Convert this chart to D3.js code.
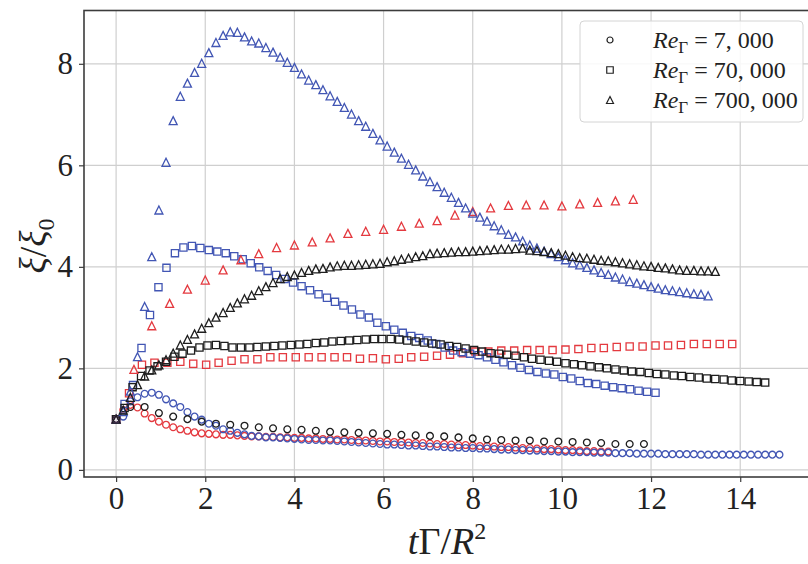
<!DOCTYPE html>
<html>
<head>
<meta charset="utf-8">
<script src="https://cdn.jsdelivr.net/npm/d3@7"></script>
<style>
  html, body { margin: 0; padding: 0; background: #fff; }
  svg text { font-family: "Liberation Serif", "DejaVu Serif", serif; fill: #222; }
</style>
</head>
<body>
<svg id="chart" width="808" height="564"></svg>
<script>
// Axis ticks
const xTicks = [0, 2, 4, 6, 8, 10, 12, 14];
const yTicks = [0, 2, 4, 6, 8];

// Legend entries (Reynolds number of each marker shape)
const reLabels = ["7, 000", "70, 000", "700, 000"];

// [tΓ/R², ξ/ξ0] — Re = 7,000 (circles)
const circBlack = [[0,1.00],[0.32,1.24],[0.64,1.24],[0.96,1.12],[1.28,1.05],[1.60,1.00],[1.92,0.95],[2.24,0.91],[2.56,0.89],[2.88,0.87],[3.20,0.84],[3.52,0.82],[3.84,0.80],[4.16,0.79],[4.48,0.77],[4.80,0.75],[5.12,0.74],[5.44,0.73],[5.76,0.72],[6.08,0.71],[6.40,0.69],[6.72,0.68],[7.04,0.67],[7.36,0.66],[7.68,0.64],[8.00,0.62],[8.32,0.60],[8.64,0.59],[8.96,0.58],[9.28,0.58],[9.60,0.56],[9.92,0.56],[10.24,0.55],[10.56,0.54],[10.88,0.53],[11.20,0.51],[11.52,0.51],[11.84,0.51]];
const circBlue = [[0,1.00],[0.16,1.05],[0.32,1.35],[0.48,1.43],[0.64,1.50],[0.80,1.52],[0.96,1.48],[1.12,1.39],[1.28,1.31],[1.44,1.24],[1.60,1.14],[1.76,1.05],[1.92,0.99],[2.08,0.91],[2.24,0.87],[2.40,0.80],[2.56,0.77],[2.72,0.73],[2.88,0.70],[3.04,0.67],[3.20,0.66],[3.36,0.64],[3.52,0.64],[3.68,0.63],[3.84,0.62],[4.00,0.61],[4.16,0.60],[4.32,0.59],[4.48,0.59],[4.64,0.58],[4.80,0.58],[4.96,0.57],[5.12,0.56],[5.28,0.55],[5.44,0.54],[5.60,0.53],[5.76,0.52],[5.92,0.51],[6.08,0.50],[6.24,0.50],[6.40,0.49],[6.56,0.48],[6.72,0.48],[6.88,0.47],[7.04,0.46],[7.20,0.46],[7.36,0.45],[7.52,0.44],[7.68,0.44],[7.84,0.43],[8.00,0.43],[8.16,0.42],[8.32,0.42],[8.48,0.41],[8.64,0.40],[8.80,0.40],[8.96,0.39],[9.12,0.39],[9.28,0.38],[9.44,0.38],[9.60,0.37],[9.76,0.37],[9.92,0.36],[10.08,0.36],[10.24,0.35],[10.40,0.35],[10.56,0.35],[10.72,0.34],[10.88,0.34],[11.04,0.34],[11.20,0.33],[11.36,0.33],[11.52,0.33],[11.68,0.32],[11.84,0.32],[12.00,0.32],[12.16,0.32],[12.32,0.31],[12.48,0.31],[12.64,0.31],[12.80,0.31],[12.96,0.31],[13.12,0.30],[13.28,0.30],[13.44,0.30],[13.60,0.30],[13.76,0.30],[13.92,0.30],[14.08,0.30],[14.24,0.30],[14.40,0.30],[14.56,0.30],[14.72,0.30],[14.88,0.30]];
const circRed = [[0,1.00],[0.16,1.18],[0.32,1.28],[0.48,1.23],[0.64,1.11],[0.80,1.02],[0.96,0.95],[1.12,0.89],[1.28,0.84],[1.44,0.80],[1.60,0.77],[1.76,0.74],[1.92,0.72],[2.08,0.71],[2.24,0.70],[2.40,0.69],[2.56,0.69],[2.72,0.68],[2.88,0.67],[3.04,0.66],[3.20,0.66],[3.36,0.65],[3.52,0.65],[3.68,0.64],[3.84,0.64],[4.00,0.63],[4.16,0.63],[4.32,0.62],[4.48,0.62],[4.64,0.61],[4.80,0.61],[4.96,0.60],[5.12,0.60],[5.28,0.59],[5.44,0.58],[5.60,0.58],[5.76,0.57],[5.92,0.56],[6.08,0.56],[6.24,0.55],[6.40,0.55],[6.56,0.54],[6.72,0.53],[6.88,0.53],[7.04,0.52],[7.20,0.51],[7.36,0.51],[7.52,0.50],[7.68,0.49],[7.84,0.49],[8.00,0.48],[8.16,0.47],[8.32,0.47],[8.48,0.46],[8.64,0.45],[8.80,0.45],[8.96,0.44],[9.12,0.43],[9.28,0.43],[9.44,0.42],[9.60,0.41],[9.76,0.41],[9.92,0.40],[10.08,0.39],[10.24,0.39],[10.40,0.38],[10.56,0.37],[10.72,0.37],[10.88,0.36],[11.04,0.36]];

// Re = 70,000 (squares)
const sqBlack = [[0,1.00],[0.19,1.22],[0.37,1.63],[0.56,1.85],[0.75,1.96],[0.93,2.04],[1.12,2.13],[1.31,2.23],[1.49,2.29],[1.68,2.35],[1.87,2.41],[2.05,2.45],[2.24,2.46],[2.43,2.44],[2.61,2.41],[2.80,2.41],[2.99,2.41],[3.17,2.42],[3.36,2.43],[3.55,2.44],[3.73,2.45],[3.92,2.46],[4.11,2.47],[4.29,2.48],[4.48,2.50],[4.67,2.51],[4.85,2.53],[5.04,2.54],[5.23,2.55],[5.41,2.56],[5.60,2.57],[5.79,2.58],[5.97,2.58],[6.16,2.58],[6.35,2.57],[6.53,2.55],[6.72,2.53],[6.91,2.51],[7.09,2.49],[7.28,2.47],[7.47,2.44],[7.65,2.42],[7.84,2.39],[8.03,2.36],[8.21,2.33],[8.40,2.30],[8.59,2.29],[8.77,2.27],[8.96,2.25],[9.15,2.22],[9.33,2.19],[9.52,2.17],[9.71,2.15],[9.89,2.13],[10.08,2.10],[10.27,2.08],[10.45,2.06],[10.64,2.04],[10.83,2.02],[11.01,2.00],[11.20,1.98],[11.39,1.96],[11.57,1.94],[11.76,1.93],[11.95,1.91],[12.13,1.89],[12.32,1.88],[12.51,1.86],[12.69,1.85],[12.88,1.83],[13.07,1.82],[13.25,1.80],[13.44,1.79],[13.63,1.78],[13.81,1.76],[14.00,1.75],[14.19,1.74],[14.37,1.73],[14.56,1.72]];
const sqBlue = [[0,1.00],[0.19,1.30],[0.38,1.67],[0.57,2.40],[0.76,3.05],[0.95,3.60],[1.13,3.98],[1.32,4.27],[1.51,4.38],[1.70,4.41],[1.89,4.37],[2.08,4.33],[2.27,4.30],[2.46,4.27],[2.65,4.21],[2.84,4.15],[3.02,4.07],[3.21,3.99],[3.40,3.92],[3.59,3.84],[3.78,3.76],[3.97,3.69],[4.16,3.62],[4.35,3.54],[4.54,3.46],[4.73,3.39],[4.91,3.31],[5.10,3.24],[5.29,3.16],[5.48,3.06],[5.67,3.00],[5.86,2.90],[6.05,2.83],[6.24,2.76],[6.43,2.70],[6.62,2.64],[6.80,2.60],[6.99,2.55],[7.18,2.48],[7.37,2.41],[7.56,2.35],[7.75,2.32],[7.94,2.29],[8.13,2.26],[8.32,2.22],[8.51,2.17],[8.69,2.12],[8.88,2.06],[9.07,2.01],[9.26,1.97],[9.45,1.93],[9.64,1.90],[9.83,1.88],[10.02,1.83],[10.21,1.80],[10.40,1.75],[10.58,1.71],[10.77,1.69],[10.96,1.66],[11.15,1.63],[11.34,1.61],[11.53,1.59],[11.72,1.56],[11.91,1.54],[12.10,1.52]];
const sqRed = [[0,1.00],[0.29,1.51],[0.58,2.07],[0.86,2.11],[1.15,2.11],[1.44,2.13],[1.73,2.09],[2.02,2.07],[2.30,2.11],[2.59,2.15],[2.88,2.18],[3.17,2.18],[3.46,2.22],[3.74,2.22],[4.03,2.22],[4.32,2.22],[4.61,2.22],[4.90,2.22],[5.18,2.22],[5.47,2.19],[5.76,2.20],[6.05,2.18],[6.34,2.19],[6.62,2.22],[6.91,2.23],[7.20,2.25],[7.49,2.27],[7.78,2.30],[8.06,2.33],[8.35,2.33],[8.64,2.35],[8.93,2.35],[9.22,2.36],[9.50,2.36],[9.79,2.36],[10.08,2.37],[10.37,2.38],[10.66,2.40],[10.94,2.40],[11.23,2.42],[11.52,2.43],[11.81,2.43],[12.10,2.45],[12.38,2.45],[12.67,2.46],[12.96,2.48],[13.25,2.48],[13.54,2.48],[13.82,2.48]];

// Re = 700,000 (triangles)
const triBlack = [[0,1.00],[0.16,1.18],[0.32,1.43],[0.48,1.68],[0.64,1.85],[0.80,1.97],[0.96,2.07],[1.12,2.17],[1.28,2.30],[1.44,2.46],[1.60,2.57],[1.76,2.68],[1.92,2.79],[2.08,2.90],[2.24,3.01],[2.40,3.10],[2.56,3.20],[2.72,3.29],[2.88,3.37],[3.04,3.44],[3.20,3.53],[3.36,3.61],[3.52,3.69],[3.68,3.77],[3.84,3.81],[4.00,3.84],[4.16,3.89],[4.32,3.93],[4.48,3.96],[4.64,3.97],[4.80,4.00],[4.96,4.02],[5.12,4.03],[5.28,4.03],[5.44,4.04],[5.60,4.05],[5.76,4.06],[5.92,4.07],[6.08,4.10],[6.24,4.12],[6.40,4.15],[6.56,4.17],[6.72,4.20],[6.88,4.22],[7.04,4.26],[7.20,4.27],[7.36,4.28],[7.52,4.29],[7.68,4.30],[7.84,4.30],[8.00,4.31],[8.16,4.32],[8.32,4.33],[8.48,4.34],[8.64,4.35],[8.80,4.35],[8.96,4.36],[9.12,4.37],[9.28,4.33],[9.44,4.32],[9.60,4.30],[9.76,4.28],[9.92,4.26],[10.08,4.23],[10.24,4.20],[10.40,4.18],[10.56,4.17],[10.72,4.15],[10.88,4.13],[11.04,4.12],[11.20,4.10],[11.36,4.08],[11.52,4.06],[11.68,4.04],[11.84,4.02],[12.00,4.01],[12.16,3.99],[12.32,3.98],[12.48,3.96],[12.64,3.94],[12.80,3.93],[12.96,3.93],[13.12,3.92],[13.28,3.92],[13.44,3.91]];
const triBlue = [[0,1.00],[0.16,1.15],[0.32,1.55],[0.48,2.23],[0.64,3.22],[0.80,4.20],[0.96,5.12],[1.12,6.06],[1.28,6.88],[1.44,7.36],[1.60,7.62],[1.76,7.83],[1.92,8.01],[2.08,8.22],[2.24,8.42],[2.40,8.56],[2.56,8.63],[2.72,8.62],[2.88,8.53],[3.04,8.45],[3.20,8.41],[3.36,8.32],[3.52,8.23],[3.68,8.13],[3.84,8.03],[4.00,7.93],[4.16,7.80],[4.32,7.68],[4.48,7.59],[4.64,7.49],[4.80,7.37],[4.96,7.26],[5.12,7.14],[5.28,7.01],[5.44,6.88],[5.60,6.77],[5.76,6.63],[5.92,6.50],[6.08,6.38],[6.24,6.26],[6.40,6.14],[6.56,6.02],[6.72,5.91],[6.88,5.79],[7.04,5.68],[7.20,5.58],[7.36,5.47],[7.52,5.37],[7.68,5.27],[7.84,5.16],[8.00,5.06],[8.16,4.98],[8.32,4.90],[8.48,4.81],[8.64,4.73],[8.80,4.64],[8.96,4.59],[9.12,4.51],[9.28,4.43],[9.44,4.37],[9.60,4.31],[9.76,4.26],[9.92,4.20],[10.08,4.14],[10.24,4.08],[10.40,4.04],[10.56,3.99],[10.72,3.94],[10.88,3.89],[11.04,3.85],[11.20,3.80],[11.36,3.76],[11.52,3.71],[11.68,3.68],[11.84,3.65],[12.00,3.61],[12.16,3.58],[12.32,3.55],[12.48,3.53],[12.64,3.51],[12.80,3.49],[12.96,3.47],[13.12,3.46],[13.28,3.43]];
const triRed = [[0,1.00],[0.40,1.98],[0.80,2.84],[1.20,3.28],[1.60,3.56],[2.00,3.74],[2.40,3.94],[2.80,4.14],[3.20,4.26],[3.60,4.38],[4.00,4.43],[4.40,4.49],[4.80,4.57],[5.20,4.66],[5.60,4.70],[6.00,4.74],[6.40,4.80],[6.80,4.86],[7.20,4.91],[7.60,5.02],[8.00,5.09],[8.40,5.16],[8.80,5.21],[9.20,5.22],[9.60,5.22],[10.00,5.20],[10.40,5.24],[10.80,5.27],[11.20,5.30],[11.60,5.33]];

// ---- drawing ----
const W = 808, H = 564;
const plot = { left: 84, right: 812, top: 10.5, bottom: 477 };

const svg = d3.select("#chart");

const x = d3.scaleLinear().domain([-0.72, 15.61]).range([plot.left, plot.right]);
const y = d3.scaleLinear().domain([-0.14, 9.05]).range([plot.bottom, plot.top]);

const palette = { black: "#1e1e1e", blue: "#4256b4", red: "#e4393f" };

// matplotlib-like marker shapes
const triUp = {
  draw(ctx, size) {
    const r = Math.sqrt(size) / 2;
    ctx.moveTo(0, -r); ctx.lineTo(r, r); ctx.lineTo(-r, r); ctx.closePath();
  }
};
const shapes = {
  circle: d3.symbol().type(d3.symbolCircle).size(Math.PI * 3.4 * 3.4),
  square: d3.symbol().type(d3.symbolSquare).size(7.2 * 7.2),
  triangle: d3.symbol().type(triUp).size(8 * 8)
};

const series = [
  { data: circRed,   shape: "circle",   color: palette.red },
  { data: circBlue,  shape: "circle",   color: palette.blue },
  { data: circBlack, shape: "circle",   color: palette.black },
  { data: sqRed,     shape: "square",   color: palette.red },
  { data: sqBlue,    shape: "square",   color: palette.blue },
  { data: sqBlack,   shape: "square",   color: palette.black },
  { data: triRed,    shape: "triangle", color: palette.red },
  { data: triBlue,   shape: "triangle", color: palette.blue },
  { data: triBlack,  shape: "triangle", color: palette.black }
];

svg.append("rect").attr("width", W).attr("height", H).attr("fill", "#fff");

svg.append("clipPath").attr("id", "plotclip")
  .append("rect")
  .attr("x", plot.left).attr("y", plot.top)
  .attr("width", plot.right - plot.left).attr("height", plot.bottom - plot.top);

// grid
const grid = svg.append("g").attr("stroke", "#cfcfcf").attr("stroke-width", 1.2);
grid.selectAll(".gx").data(xTicks).join("line")
  .attr("x1", d => x(d)).attr("x2", d => x(d))
  .attr("y1", plot.top).attr("y2", plot.bottom);
grid.selectAll(".gy").data(yTicks).join("line")
  .attr("y1", d => y(d)).attr("y2", d => y(d))
  .attr("x1", plot.left).attr("x2", plot.right);

// markers
const marks = svg.append("g").attr("clip-path", "url(#plotclip)");
series.forEach(s => {
  marks.append("g")
    .attr("fill", "none")
    .attr("stroke", s.color)
    .attr("stroke-width", 1.3)
    .selectAll("path").data(s.data).join("path")
    .attr("d", shapes[s.shape])
    .attr("transform", d => `translate(${x(d[0])},${y(d[1])})`);
});

// frame
svg.append("rect")
  .attr("x", plot.left).attr("y", plot.top)
  .attr("width", plot.right - plot.left).attr("height", plot.bottom - plot.top)
  .attr("fill", "none").attr("stroke", "#3c3c3c").attr("stroke-width", 1.6);

// axes
const xAxis = svg.append("g")
  .attr("transform", `translate(0,${plot.bottom})`)
  .call(d3.axisBottom(x).tickValues(xTicks).tickSize(5).tickPadding(5).tickFormat(d3.format("d")));
const yAxis = svg.append("g")
  .attr("transform", `translate(${plot.left},0)`)
  .call(d3.axisLeft(y).tickValues(yTicks).tickSize(5).tickPadding(6).tickFormat(d3.format("d")));
[xAxis, yAxis].forEach(a => {
  a.select(".domain").remove();
  a.selectAll(".tick line").attr("stroke", "#3c3c3c").attr("stroke-width", 1.2);
  a.selectAll(".tick text")
    .attr("font-family", "'Liberation Serif', serif")
    .attr("font-size", 31).attr("fill", "#222");
});

// axis titles
const xt = svg.append("text")
  .attr("x", 447).attr("y", 554)
  .attr("text-anchor", "middle").attr("font-size", 38);
xt.append("tspan").attr("font-style", "italic").text("t");
xt.append("tspan").text("Γ/");
xt.append("tspan").attr("font-style", "italic").text("R");
xt.append("tspan").attr("font-size", 24).attr("dy", -15).text("2");

const yt = svg.append("text")
  .attr("transform", "translate(46,246) rotate(-90)")
  .attr("text-anchor", "middle").attr("font-size", 38);
yt.append("tspan").attr("font-style", "italic").text("ξ");
yt.append("tspan").text("/");
yt.append("tspan").attr("font-style", "italic").text("ξ");
yt.append("tspan").attr("font-size", 24).attr("dy", 8).text("0");

// legend
const lg = svg.append("g");
lg.append("rect")
  .attr("x", 580).attr("y", 21).attr("width", 223).attr("height", 101)
  .attr("rx", 4).attr("fill", "#fff").attr("fill-opacity", 0.85)
  .attr("stroke", "#d4d4d4").attr("stroke-width", 1);
const legendShapes = ["circle", "square", "triangle"];
const legendSym = {
  circle: d3.symbol().type(d3.symbolCircle).size(Math.PI * 3 * 3),
  square: d3.symbol().type(d3.symbolSquare).size(6.5 * 6.5),
  triangle: d3.symbol().type(triUp).size(7 * 7)
};
reLabels.forEach((lab, i) => {
  const cy = 40 + i * 30;
  lg.append("path")
    .attr("d", legendSym[legendShapes[i]])
    .attr("transform", `translate(610,${cy})`)
    .attr("fill", "none").attr("stroke", "#222").attr("stroke-width", 1.2);
  const t = lg.append("text").attr("x", 653).attr("y", cy + 8).attr("font-size", 24);
  t.append("tspan").attr("font-style", "italic").text("Re");
  t.append("tspan").attr("font-size", 17).attr("dy", 5).text("Γ");
  t.append("tspan").attr("dy", -5).text(" = " + lab);
});
</script>
</body>
</html>
